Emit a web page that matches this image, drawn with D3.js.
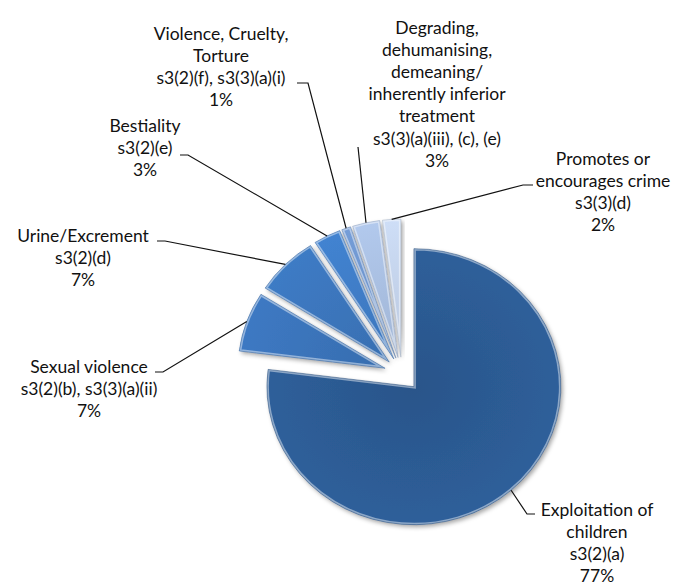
<!DOCTYPE html>
<html>
<head>
<meta charset="utf-8">
<script src="https://cdn.jsdelivr.net/npm/d3@7"></script>
<style>
  body { margin: 0; background: #fff; }
  svg text { font-family: Lato, "Open Sans", sans-serif; fill: #111; }
</style>
</head>
<body>
<svg id="chart" width="678" height="588"></svg>
<script>
// Classification grounds and their share of refused items (%)
const categories = [
  ["Exploitation of", "children"],
  ["Sexual violence"],
  ["Urine/Excrement"],
  ["Bestiality"],
  ["Violence, Cruelty,", "Torture"],
  ["Degrading,", "dehumanising,", "demeaning/", "inherently inferior", "treatment"],
  ["Promotes or", "encourages crime"]
];
const sections = [
  "s3(2)(a)",
  "s3(2)(b), s3(3)(a)(ii)",
  "s3(2)(d)",
  "s3(2)(e)",
  "s3(2)(f), s3(3)(a)(i)",
  "s3(3)(a)(iii), (c), (e)",
  "s3(3)(d)"
];
const shares = [77, 7, 7, 3, 1, 3, 2];

// Slice fills
const sliceColors = ["#2c5a92", "#3a73b9", "#3b75bb", "#3f7cc6", "#6e95cd", "#a9bfe1", "#c3d2ea"];

// Label block placement: centre x, first baseline, and leader knee / end points
const labelLayout = [
  { x: 597, y: 516, knee: [527, 514], end: [535, 514] },
  { x: 89,  y: 373, knee: [163, 372], end: [155, 372] },
  { x: 83,  y: 242, knee: [165, 241], end: [157, 241] },
  { x: 145, y: 132, knee: [188, 155], end: [180, 155] },
  { x: 221, y: 40,  knee: [308, 83],  end: [297, 83] },
  { x: 437, y: 34,  knee: [358, 147], end: [358, 147] },
  { x: 603, y: 165, knee: [523, 185], end: [533, 185] }
];

const svg = d3.select("#chart");
const cx = 402, cy = 374, R = 147, tilt = 0.939, explode = 18, lineH = 22.1;

const defs = svg.append("defs");
const shadow = defs.append("filter").attr("id", "shadow")
  .attr("x", "-20%").attr("y", "-20%").attr("width", "140%").attr("height", "140%");
shadow.append("feDropShadow").attr("dx", 2).attr("dy", 2.5)
  .attr("stdDeviation", 2).attr("flood-color", "#000").attr("flood-opacity", 0.35);

const pie = d3.pie().sort(null).value(d => d);
const arcs = pie(shares);
const arc = d3.arc().innerRadius(0).outerRadius(R);
const mid = d => (d.startAngle + d.endAngle) / 2;

const pieG = svg.append("g")
  .attr("transform", `translate(${cx},${cy}) scale(1,${tilt})`);

const slices = pieG.selectAll("g.slice").data(arcs).join("g")
  .attr("class", "slice")
  .attr("transform", d => `translate(${explode * Math.sin(mid(d))},${-explode * Math.cos(mid(d))})`);

slices.each(function (d, i) {
  const g = d3.select(this);
  const path = arc(d);
  defs.append("clipPath").attr("id", "clip" + i).append("path").attr("d", path);
  // gradient shading, slightly lighter towards the rim
  const grad = defs.append("radialGradient").attr("id", "grad" + i)
    .attr("gradientUnits", "userSpaceOnUse").attr("cx", 0).attr("cy", 0).attr("r", R);
  const base = d3.color(sliceColors[i]);
  grad.append("stop").attr("offset", "0%").attr("stop-color", base.darker(0.15));
  grad.append("stop").attr("offset", "100%").attr("stop-color", base.brighter(0.15));
  g.append("path").attr("d", path).attr("fill", `url(#grad${i})`).attr("filter", "url(#shadow)");
  // bevel rim: light inner edge
  g.append("path").attr("d", path).attr("fill", "none")
    .attr("stroke", "#ffffff").attr("stroke-opacity", 0.45).attr("stroke-width", 4)
    .attr("clip-path", `url(#clip${i})`);
  g.append("path").attr("d", path).attr("fill", "none")
    .attr("stroke", base.darker(0.6)).attr("stroke-opacity", 0.6).attr("stroke-width", 0.8);
});

// Leader lines from the rim of each slice to its label
const leaders = svg.append("g");
arcs.forEach((d, i) => {
  const m = mid(d);
  const px = cx + (explode + R) * Math.sin(m);
  const py = cy - (explode + R) * Math.cos(m) * tilt;
  const L = labelLayout[i];
  leaders.append("path")
    .attr("d", d3.line()([[px, py], L.knee, L.end]))
    .attr("fill", "none").attr("stroke", "#111").attr("stroke-width", 1.2);
});

// Labels
const labels = svg.append("g").attr("font-size", 17.5).attr("text-anchor", "middle");
arcs.forEach((d, i) => {
  const L = labelLayout[i];
  const lines = [...categories[i], sections[i], shares[i] + "%"];
  const t = labels.append("text").attr("x", L.x).attr("y", L.y);
  lines.forEach((s, k) => {
    t.append("tspan").attr("x", L.x).attr("y", L.y + k * lineH).text(s);
  });
});
</script>
</body>
</html>
